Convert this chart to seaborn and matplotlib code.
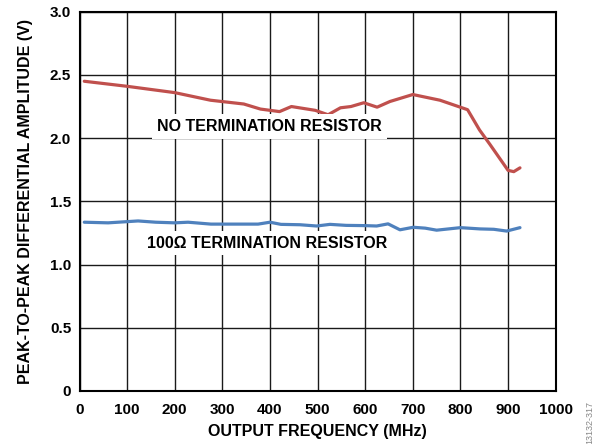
import numpy as np
import pandas as pd
import matplotlib
matplotlib.use("Agg")
import matplotlib.pyplot as plt
import seaborn as sns

# ── Data ─────────────────────────────────────
no_term_freq = [10, 100, 200, 275, 345, 380, 420, 445, 495, 522, 548, 570,
                597, 625, 652, 700, 757, 815, 840, 862, 900, 912, 925]
no_term_amp = [2.45, 2.41, 2.36, 2.30, 2.27, 2.23, 2.21, 2.25, 2.22, 2.185,
               2.24, 2.25, 2.28, 2.245, 2.29, 2.345, 2.30, 2.225, 2.065,
               1.95, 1.745, 1.735, 1.765]

term_freq = [10, 60, 123, 160, 200, 228, 276, 375, 400, 423, 463, 498, 526,
             560, 600, 624, 648, 673, 701, 726, 750, 800, 841, 870, 897, 925]
term_amp = [1.335, 1.33, 1.345, 1.335, 1.33, 1.335, 1.32, 1.32, 1.335, 1.318,
            1.315, 1.305, 1.318, 1.31, 1.308, 1.305, 1.322, 1.275, 1.295,
            1.288, 1.272, 1.292, 1.282, 1.279, 1.265, 1.292]

x_ticks = [0, 100, 200, 300, 400, 500, 600, 700, 800, 900, 1000]
y_ticks = [0, 0.5, 1.0, 1.5, 2.0, 2.5, 3.0]
y_tick_labels = ["0", "0.5", "1.0", "1.5", "2.0", "2.5", "3.0"]

RED = "#C0504D"
BLUE = "#4F81BD"

df = pd.concat([
    pd.DataFrame({"freq": no_term_freq, "amp": no_term_amp, "series": "none"}),
    pd.DataFrame({"freq": term_freq, "amp": term_amp, "series": "100ohm"}),
])

sns.set_style("white")
plt.rcParams["font.family"] = ["Liberation Sans", "DejaVu Sans"]
plt.rcParams["font.weight"] = "bold"
plt.rcParams["text.color"] = "black"
plt.rcParams["axes.labelcolor"] = "black"

fig = plt.figure(figsize=(6.01, 4.44), dpi=100)
ax = fig.add_axes([0.1323, 0.1194, 0.7923, 0.8542])

sns.lineplot(data=df, x="freq", y="amp", hue="series",
             palette={"none": RED, "100ohm": BLUE},
             linewidth=2.3, legend=False, ax=ax, zorder=3)

ax.set_xlim(0, 1000)
ax.set_ylim(0, 3.0)
ax.set_xticks(x_ticks)
ax.set_xticklabels([str(t) for t in x_ticks], fontsize=11, fontweight="bold")
ax.set_yticks(y_ticks)
ax.set_yticklabels(y_tick_labels, fontsize=11, fontweight="bold")
ax.tick_params(axis="x", length=0, pad=9, colors="black")
ax.tick_params(axis="y", length=0, pad=6, colors="black")
ax.grid(True, color="#1a1a1a", linewidth=1.0)
ax.set_axisbelow(True)
for spine in ax.spines.values():
    spine.set_edgecolor("black")
    spine.set_linewidth(1.5)

ax.set_xlabel("OUTPUT FREQUENCY (MHz)", fontsize=11.5, fontweight="bold",
              labelpad=5, color="black")
ax.set_ylabel("PEAK-TO-PEAK DIFFERENTIAL AMPLITUDE (V)", fontsize=11.5,
              fontweight="bold", labelpad=12, color="black")

box = dict(boxstyle="square,pad=0.3", facecolor="white", edgecolor="none")
ax.text(399, 2.09, "NO TERMINATION RESISTOR", fontsize=11.5, fontweight="bold",
        ha="center", va="center", color="black", bbox=box, zorder=4)
ax.text(394, 1.17, "100Ω TERMINATION RESISTOR", fontsize=11.5, fontweight="bold",
        ha="center", va="center", color="black", bbox=box, zorder=4)

fig.text(0.982, 0.0, "13132-317", rotation=90, fontsize=6.5, color="#888888",
         fontweight="normal", ha="center", va="bottom")

plt.savefig("out.png", dpi=100, facecolor="white")
